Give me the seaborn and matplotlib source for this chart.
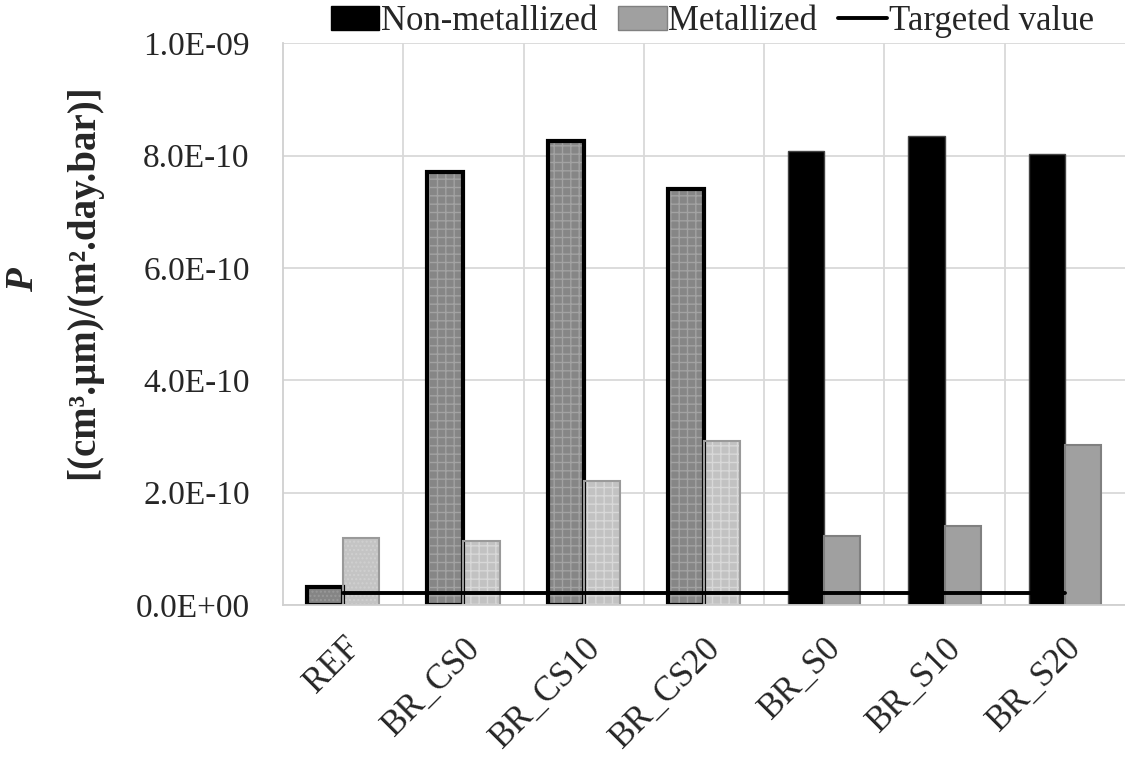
import matplotlib
matplotlib.use("Agg")
import matplotlib.pyplot as plt
import matplotlib.patches as mpatches
import matplotlib.lines as mlines
import pandas as pd
import seaborn as sns


# ============================================================
# DATA
# ============================================================

samples = ["REF", "BR_CS0", "BR_CS10", "BR_CS20", "BR_S0", "BR_S10", "BR_S20"]
non_metallized = [3.2e-11, 7.7e-10, 8.25e-10, 7.4e-10, 8.08e-10, 8.34e-10, 8.02e-10]
metallized = [1.2e-10, 1.14e-10, 2.21e-10, 2.92e-10, 1.23e-10, 1.4e-10, 2.85e-10]
targeted = [2.2e-11] * len(samples)

y_ticks = [0.0, 2e-10, 4e-10, 6e-10, 8e-10, 1e-9]
y_tick_labels = ["0.0E+00", "2.0E-10", "4.0E-10", "6.0E-10", "8.0E-10", "1.0E-09"]

df = pd.DataFrame({
    "sample": samples * 2,
    "P": non_metallized + metallized,
    "type": ["Non-metallized"] * len(samples) + ["Metallized"] * len(samples),
})


# ============================================================
# CHART
# ============================================================

sns.set_style("white")
plt.rcParams["font.family"] = ["Liberation Serif", "DejaVu Serif"]
plt.rcParams["hatch.linewidth"] = 1.0

fig = plt.figure(figsize=(11.25, 7.57), dpi=100)
ax = fig.add_axes([0.2516, 0.2008, 0.7484, 0.7422])

sns.barplot(
    data=df,
    x="sample",
    y="P",
    hue="type",
    palette=["black", "#a0a0a0"],
    width=0.6,
    gap=0,
    saturation=1,
    legend=False,
    ax=ax,
    zorder=2
)


def style_bar(bar, face, edge, lw, hatch=None, hatch_color=None):
    # the hatch follows the edge colour, so the bar gets the hatch colour
    # and a separate unfilled outline is drawn on top of it
    bar.set_facecolor(face)
    if hatch:
        bar.set_hatch(hatch)
        bar.set_edgecolor(hatch_color)
        bar.set_linewidth(0)
        outline = mpatches.Rectangle(
            (bar.get_x(), bar.get_y()),
            bar.get_width(),
            bar.get_height(),
            fill=False,
            edgecolor=edge,
            linewidth=lw,
            zorder=2.5
        )
        ax.add_patch(outline)
    else:
        bar.set_edgecolor(edge)
        bar.set_linewidth(lw)


non_bars = ax.containers[0]
met_bars = ax.containers[1]

for i, bar in enumerate(non_bars):
    if i == 0:
        style_bar(bar, "#858585", "black", 3.0, "....", "#999999")
    elif i <= 3:
        style_bar(bar, "#868686", "black", 3.0, "++", "#a2a2a2")
    else:
        style_bar(bar, "black", "#444444", 1.0)

for i, bar in enumerate(met_bars):
    if i == 0:
        style_bar(bar, "#c4c4c4", "#9a9a9a", 1.5, "....", "#d0d0d0")
    elif i <= 3:
        style_bar(bar, "#c2c2c2", "#9a9a9a", 1.5, "++", "#d8d8d8")
    else:
        style_bar(bar, "#a0a0a0", "#808080", 1.5)

ax.plot(samples, targeted, color="black", linewidth=2.8, zorder=3)

# axes and grid
ax.set_ylim(0, 1e-9)
ax.set_xlim(-0.5, len(samples) - 0.5)
ax.set_yticks(y_ticks)
ax.set_yticklabels(y_tick_labels, fontsize=24)
ax.set_xticks(range(len(samples)))
ax.set_xticklabels(samples, fontsize=25, rotation=45, ha="right",
                   rotation_mode="anchor")
ax.tick_params(axis="x", pad=19, length=0)
ax.tick_params(axis="y", pad=24, length=0)

ax.set_xticks([i + 0.5 for i in range(len(samples) - 1)], minor=True)
ax.grid(axis="y", which="major", color="#d9d9d9", linewidth=1.3, zorder=0)
ax.grid(axis="x", which="minor", color="#d9d9d9", linewidth=1.3, zorder=0)
ax.grid(axis="x", which="major", visible=False)
ax.tick_params(axis="x", which="minor", length=0)
ax.set_axisbelow(True)

for side in ["top", "right"]:
    ax.spines[side].set_visible(False)
for side in ["left", "bottom"]:
    ax.spines[side].set_color("#d0d0d0")
    ax.spines[side].set_linewidth(1.3)

ax.set_xlabel("")
ax.set_ylabel("")

fig.text(0.021, 0.63, "P", rotation=90, fontsize=28, fontweight="bold",
         fontstyle="italic", ha="center", va="center")
fig.text(0.074, 0.628, "[(cm³.µm)/(m².day.bar)]", rotation=90, fontsize=28,
         fontweight="bold", ha="center", va="center")

# legend
handles = [
    mpatches.Patch(facecolor="black", edgecolor="black"),
    mpatches.Patch(facecolor="#a0a0a0", edgecolor="#808080"),
    mlines.Line2D([], [], color="black", linewidth=2.8),
]
fig.legend(
    handles,
    ["Non-metallized", "Metallized", "Targeted value"],
    loc="upper right",
    bbox_to_anchor=(1.0, 1.035),
    ncol=3,
    frameon=False,
    fontsize=25,
    handlelength=1.4,
    handleheight=0.7,
    handletextpad=0.05,
    columnspacing=0.6
)

plt.savefig("out.png", dpi=100)
plt.close()
